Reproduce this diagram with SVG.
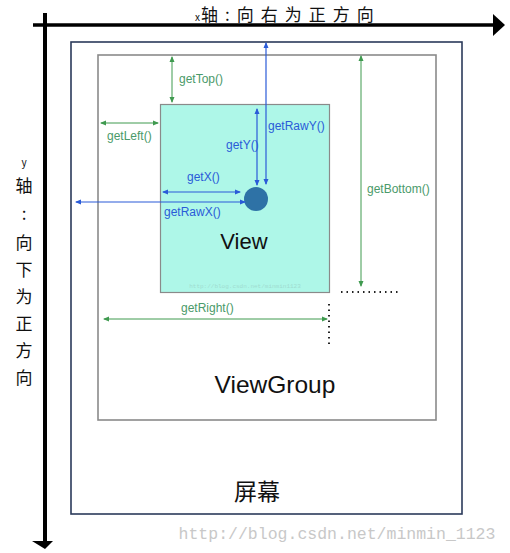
<svg xmlns="http://www.w3.org/2000/svg" width="510" height="553" viewBox="0 0 510 553">
<style>
.g{stroke:#3f9a4f;stroke-width:1;fill:none}
.b{stroke:#2a5bd8;stroke-width:1.2;fill:none}
.gt{font-family:"Liberation Sans",Arial,sans-serif;font-size:12px;fill:#4a9a6a}
.bt{font-family:"Liberation Sans",Arial,sans-serif;font-size:12px;fill:#2a5bd8}
.cj{font-family:"Noto Sans CJK SC","Liberation Serif",serif;font-size:17px;fill:#111}
.dot{stroke:#222;stroke-width:2;stroke-dasharray:1.5 4;fill:none}
</style>
<defs>
<marker id="ag" viewBox="0 0 6 6" refX="5" refY="3" markerWidth="6" markerHeight="6" orient="auto-start-reverse" markerUnits="userSpaceOnUse"><path d="M0,0.5 L6,3 L0,5.5 z" fill="#3f9a4f"/></marker>
<marker id="ab" viewBox="0 0 6 6" refX="5" refY="3" markerWidth="6" markerHeight="6" orient="auto-start-reverse" markerUnits="userSpaceOnUse"><path d="M0,0.5 L6,3 L0,5.5 z" fill="#2a5bd8"/></marker>
</defs>
<rect width="510" height="553" fill="#fff"/>
<g id="screen">
<rect x="71" y="42" width="391" height="472" fill="#fff" stroke="#2b3a5a" stroke-width="1.6"/>
<text x="257" y="500" class="cj" style="font-size:23px" text-anchor="middle">屏幕</text>
</g>
<g id="viewgroup">
<rect x="98" y="55" width="338" height="365" fill="#fff" stroke="#8a8a8a" stroke-width="1.6"/>
<text x="275" y="393" font-family="Liberation Sans,Arial,sans-serif" font-size="24.5" fill="#111" text-anchor="middle">ViewGroup</text>
</g>
<g id="view">
<rect x="160.5" y="104.5" width="169" height="188" fill="#aef7e8" stroke="#8a8a8a" stroke-width="1.2"/>
<text x="244" y="249" font-family="Liberation Sans,Arial,sans-serif" font-size="22" fill="#111" text-anchor="middle">View</text>
<text x="245" y="288" font-family="Liberation Mono,monospace" font-size="6" fill="#9fdcd0" text-anchor="middle">http://blog.csdn.net/minmin1123</text>
</g>
<g id="touch">
<circle cx="256" cy="199" r="12" fill="#2e72a6"/>
</g>
<g id="axes">
<line x1="33" y1="25" x2="494" y2="25" stroke="#000" stroke-width="3.5"/>
<path d="M493,14 L505,25 L493,36 z" fill="#000"/>
<line x1="45" y1="13" x2="45" y2="542" stroke="#000" stroke-width="4"/>
<path d="M32,541 L45,549 L53,541 z" fill="#000"/>
<text x="195" y="21" class="cj" style="font-size:17px;letter-spacing:7px"><tspan style="font-size:10px;letter-spacing:1px">x</tspan>轴:向右为正方向</text>
<g class="cj" text-anchor="middle">
<text x="24" y="166" style="font-size:10px">y</text>
<text x="24" y="192">轴</text>
<text x="24" y="220">:</text>
<text x="24" y="249">向</text>
<text x="24" y="276">下</text>
<text x="24" y="303">为</text>
<text x="24" y="330">正</text>
<text x="24" y="357">方</text>
<text x="24" y="384">向</text>
</g>
</g>
<g id="connectors">
<line class="g" x1="172" y1="57" x2="172" y2="102" marker-start="url(#ag)" marker-end="url(#ag)"/>
<line class="g" x1="101" y1="123" x2="158" y2="123" marker-start="url(#ag)" marker-end="url(#ag)"/>
<line class="g" x1="361" y1="56" x2="361" y2="286" marker-start="url(#ag)" marker-end="url(#ag)"/>
<line class="g" x1="104" y1="319" x2="327" y2="319" marker-start="url(#ag)" marker-end="url(#ag)"/>
<line class="b" x1="257" y1="109" x2="257" y2="185" marker-start="url(#ab)" marker-end="url(#ab)"/>
<line class="b" x1="266" y1="43" x2="266" y2="184" marker-start="url(#ab)" marker-end="url(#ab)"/>
<line class="b" x1="163" y1="192" x2="240" y2="192" marker-start="url(#ab)" marker-end="url(#ab)"/>
<line class="b" x1="76" y1="202" x2="245" y2="202" marker-start="url(#ab)" marker-end="url(#ab)"/>
<line class="dot" x1="341" y1="292" x2="398" y2="292"/>
<line class="dot" x1="329" y1="304" x2="329" y2="345"/>
</g>
<g id="labels">
<text x="179" y="83" class="gt">getTop()</text>
<text x="107" y="140" class="gt">getLeft()</text>
<text x="367" y="193" class="gt">getBottom()</text>
<text x="181" y="312" class="gt">getRight()</text>
<text x="226" y="149" class="bt">getY()</text>
<text x="268" y="130" class="bt">getRawY()</text>
<text x="187" y="181" class="bt">getX()</text>
<text x="164" y="216" class="bt">getRawX()</text>
</g>
<text x="337" y="539" font-family="Liberation Mono,monospace" font-size="16.5" fill="#c8c8c8" text-anchor="middle">http://blog.csdn.net/minmin_1123</text>
</svg>
